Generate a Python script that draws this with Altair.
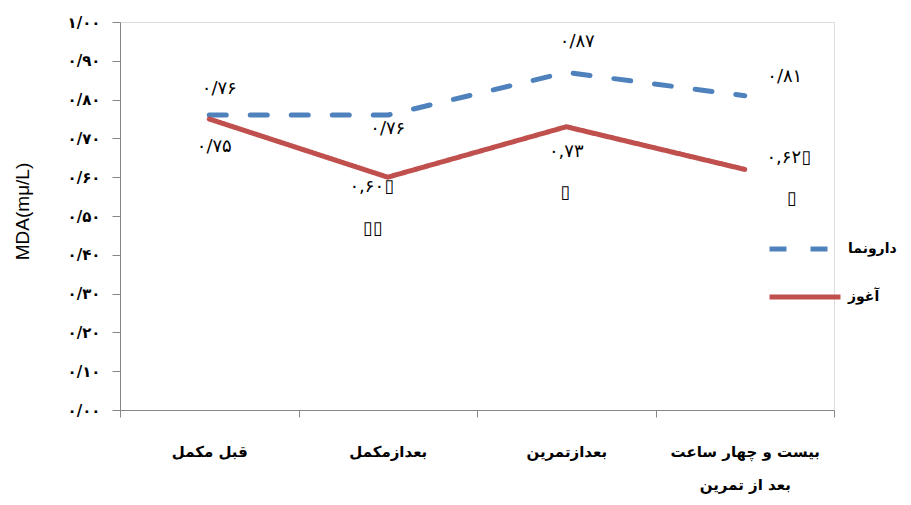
import altair as alt
import pandas as pd

categories = ['قبل مکمل', 'بعدازمکمل', 'بعدازتمرین', 'بیست و چهار ساعت بعد از تمرین']
series_names = ['دارونما', 'آغوز']
placebo = [0.76, 0.76, 0.87, 0.81]
colostrum = [0.75, 0.60, 0.73, 0.62]
placebo_labels = ['۰/۷۶', '۰/۷۶', '۰/۸۷', '۰/۸۱']
colostrum_labels = ['۰/۷۵', '۰,۶۰▯', '۰,۷۳', '۰,۶۲▯']
colostrum_marks = ['', '▯▯', '▯', '▯']
y_tick_values = [0.0, 0.1, 0.2, 0.3, 0.4, 0.5, 0.6, 0.7, 0.8, 0.9, 1.0]
y_tick_labels = ['۰/۰۰', '۰/۱۰', '۰/۲۰', '۰/۳۰', '۰/۴۰', '۰/۵۰', '۰/۶۰', '۰/۷۰', '۰/۸۰', '۰/۹۰', '۱/۰۰']
colors = ['#4F81BD', '#C0504D']

rows = []
for c, v in zip(categories, placebo):
    rows.append({'category': c, 'series': series_names[0], 'value': v})
for c, v in zip(categories, colostrum):
    rows.append({'category': c, 'series': series_names[1], 'value': v})
df = pd.DataFrame(rows)

FONT = 'DejaVu Sans'
axis_grey = '#868686'

x_enc = alt.X('category:N', sort=categories, title=None,
              scale=alt.Scale(paddingInner=0, paddingOuter=0),
              axis=alt.Axis(tickBand='extent', labelAngle=0, domainColor=axis_grey,
                            tickColor=axis_grey, tickSize=7, labelPadding=27,
                            labelFont=FONT, labelFontSize=15, labelFontWeight='bold',
                            labelColor='black', labelLineHeight=33, labelLimit=300,
                            labelOverlap=False,
                            labelExpr="datum.label == '" + categories[3] + "' ? ['بیست و چهار ساعت', 'بعد از تمرین'] : datum.label"))

label_array = '[' + ','.join("'" + s + "'" for s in y_tick_labels) + ']'
y_enc = alt.Y('value:Q', scale=alt.Scale(domain=[0, 1]),
              axis=alt.Axis(values=y_tick_values, tickCount=20, grid=False, domainColor=axis_grey,
                            tickColor=axis_grey, tickSize=8, labelPadding=12,
                            labelOverlap=False,
                            labelFont=FONT, labelFontSize=15, labelFontWeight='bold',
                            labelColor='black',
                            labelExpr=label_array + '[round(datum.value*10)]',
                            title='MDA(mμ/L)', titleFont='Liberation Sans', titleFontSize=19,
                            titleFontWeight='normal', titleColor='black',
                            titleX=-98, titleY=189, titleAngle=270, titleBaseline='middle',
                            titleAlign='center'))

legend = alt.Legend(orient='none', legendX=647, legendY=189, title=None,
                    symbolType='stroke', symbolSize=5041, symbolStrokeWidth=5,
                    labelFont=FONT, labelFontSize=14, labelFontWeight='bold',
                    labelColor='black', rowPadding=-36, labelOffset=5)

lines = alt.Chart(df).mark_line(strokeWidth=5, strokeCap='round').encode(
    x=x_enc,
    y=y_enc,
    color=alt.Color('series:N', scale=alt.Scale(domain=series_names, range=colors), legend=legend),
    strokeDash=alt.StrokeDash('series:N', scale=alt.Scale(domain=series_names, range=[[17, 24], [1, 0]]), legend=legend),
)

layers = [lines]

placebo_offsets = [(10, -26), (0, 14), (11, -30), (40, -19)]
colostrum_offsets = [(5, 28), (-16, 10), (0, 25), (44, -11)]
mark_offsets = [(0, 0), (-15, 52), (-1, 66), (47, 30)]

def text_layer(cat, val, txt, off):
    d = pd.DataFrame([{'category': cat, 'value': val, 'label': txt}])
    return alt.Chart(d).mark_text(font=FONT, fontSize=18, color='black',
                                  dx=off[0], dy=off[1]).encode(
        x=alt.X('category:N', sort=categories),
        y=alt.Y('value:Q'),
        text='label:N')

for i, c in enumerate(categories):
    layers.append(text_layer(c, placebo[i], placebo_labels[i], placebo_offsets[i]))
    layers.append(text_layer(c, colostrum[i], colostrum_labels[i], colostrum_offsets[i]))
    if colostrum_marks[i]:
        layers.append(text_layer(c, colostrum[i], colostrum_marks[i], mark_offsets[i]))

chart = alt.layer(*layers).properties(
    width=714, height=388,
    autosize=alt.AutoSizeParams(type='none'),
    padding={'left': 112, 'top': 14, 'right': 69, 'bottom': 87},
).configure_view(stroke=None).configure(background='white')

chart.save('out.html', embed_options={'renderer': 'svg', 'actions': False})
